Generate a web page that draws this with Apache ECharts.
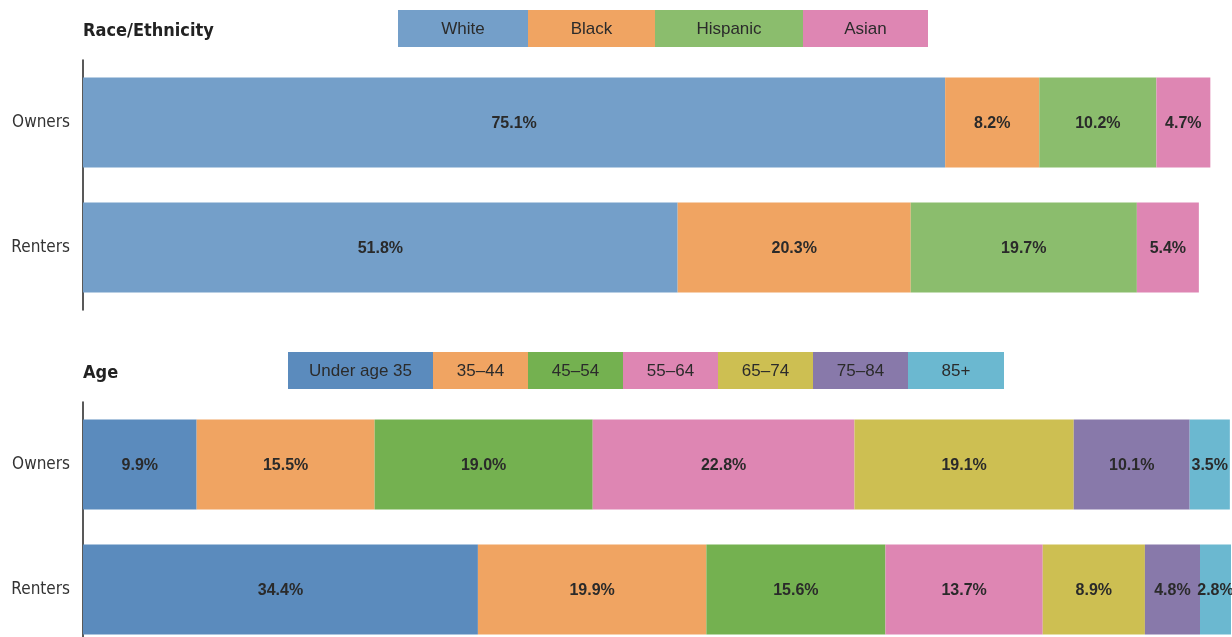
<!DOCTYPE html>
<html>
<head>
<meta charset="utf-8">
<script src="https://cdn.jsdelivr.net/npm/echarts@6/dist/echarts.min.js"></script>
<style>
  html, body { margin: 0; padding: 0; background: #fff; }
  #chart { width: 1232px; height: 637px; }
</style>
</head>
<body>
<div id="chart"></div>
<script>
// data
var tenure = ['Owners', 'Renters'];
var raceNames = ['White', 'Black', 'Hispanic', 'Asian'];
var raceOwners = [75.1, 8.2, 10.2, 4.7];
var raceRenters = [51.8, 20.3, 19.7, 5.4];
var ageNames = ['Under age 35', '35\u201344', '45\u201354', '55\u201364', '65\u201374', '75\u201384', '85+'];
var ageOwners = [9.9, 15.5, 19.0, 22.8, 19.1, 10.1, 3.5];
var ageRenters = [34.4, 19.9, 15.6, 13.7, 8.9, 4.8, 2.8];

// styles
var raceColors = ['#749fc9', '#f0a462', '#8bbd6d', '#de86b3'];
var ageColors = ['#5b8bbd', '#f0a462', '#74b150', '#de86b3', '#cdbf52', '#8879aa', '#6bb8d0'];
var raceBoxW = [130, 127, 148, 125];
var ageBoxW = [145, 95, 95, 95, 95, 95, 96];
var narrow = '"DejaVu Sans Condensed", "Liberation Sans Narrow", sans-serif';

var myChart = echarts.init(document.getElementById('chart'));

// legend drawn as coloured boxes with the name inside
function legendBoxes(names, colors, widths, x0, y0) {
    var out = [];
    var x = x0;
    names.forEach(function (n, i) {
        out.push({
            type: 'rect', left: x, top: y0,
            shape: { width: widths[i], height: 37 },
            style: { fill: colors[i] }
        });
        out.push({
            type: 'text', x: x + widths[i] / 2, y: y0 + 19,
            style: { text: n, fill: '#2b2b2b', font: '17px "Liberation Sans", Arial, sans-serif',
                     align: 'center', verticalAlign: 'middle' }
        });
        x += widths[i];
    });
    return out;
}

function makeSeries(names, colors, owners, renters, idx, stack) {
    return names.map(function (n, i) {
        return {
            name: n, type: 'bar', stack: stack,
            xAxisIndex: idx, yAxisIndex: idx,
            barWidth: 90,
            itemStyle: { color: colors[i] },
            label: {
                show: true, position: 'inside', offset: [0, 1],
                formatter: function (p) { return p.value.toFixed(1) + '%'; },
                color: '#2a2a2a', fontWeight: 'bold', fontSize: 16,
                fontFamily: '"Liberation Sans", Arial, sans-serif'
            },
            data: [owners[i], renters[i]]
        };
    });
}

var yAxisBase = {
    type: 'category', data: tenure, inverse: true,
    axisLine: { show: true, lineStyle: { color: '#222', width: 1.5 } },
    axisTick: { show: false },
    axisLabel: { color: '#333', fontSize: 17, fontFamily: narrow, margin: 13, padding: [4, 0, 0, 0] }
};
var xAxisBase = { type: 'value', min: 0, max: 100, show: false };

var option = {
    animation: false,
    backgroundColor: '#fff',
    title: [
        { text: 'Race/Ethnicity', left: 78, top: 17,
          textStyle: { fontSize: 18, fontWeight: 'bold', color: '#222', fontFamily: narrow } },
        { text: 'Age', left: 78, top: 359,
          textStyle: { fontSize: 18, fontWeight: 'bold', color: '#222', fontFamily: narrow } }
    ],
    grid: [
        { left: 83, width: 1148, top: 60, height: 250, outerBoundsMode: 'none' },
        { left: 83, width: 1148, top: 402, height: 250, outerBoundsMode: 'none' }
    ],
    xAxis: [
        Object.assign({ gridIndex: 0 }, xAxisBase),
        Object.assign({ gridIndex: 1 }, xAxisBase)
    ],
    yAxis: [
        Object.assign({ gridIndex: 0 }, yAxisBase),
        Object.assign({ gridIndex: 1 }, yAxisBase)
    ],
    graphic: legendBoxes(raceNames, raceColors, raceBoxW, 398, 10)
        .concat(legendBoxes(ageNames, ageColors, ageBoxW, 288, 352)),
    series: makeSeries(raceNames, raceColors, raceOwners, raceRenters, 0, 'race')
        .concat(makeSeries(ageNames, ageColors, ageOwners, ageRenters, 1, 'age'))
};

myChart.setOption(option);
</script>
</body>
</html>
